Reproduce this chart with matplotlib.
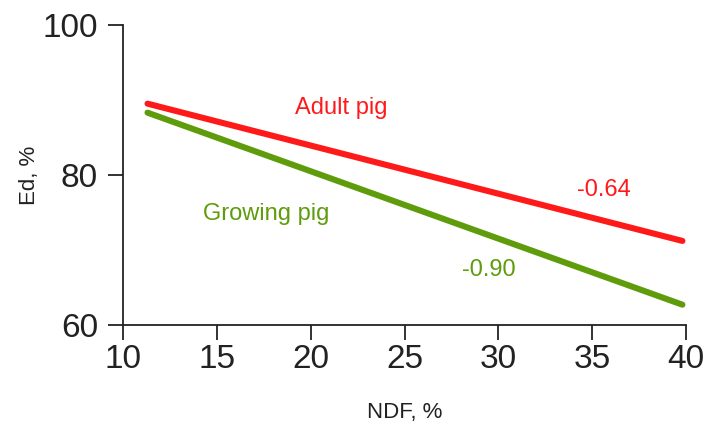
import matplotlib.pyplot as plt

plt.rcParams['font.family'] = ['Liberation Sans', 'DejaVu Sans']

# NDF range and fitted Ed values at both ends
ndf = [11.3, 39.8]
adult = [89.5, 71.2]
growing = [88.3, 62.7]
xticks = [10, 15, 20, 25, 30, 35, 40]
yticks = [60, 80, 100]

red = '#ff1a1a'
green = '#5e9c0c'

fig = plt.figure(figsize=(7.2, 4.22), dpi=100)
ax = fig.add_axes([0.171, 0.230, 0.782, 0.711])

ax.plot(ndf, adult, color=red, lw=4.4, solid_capstyle='round')
ax.plot(ndf, growing, color=green, lw=4.4, solid_capstyle='round')

ax.text(21.6, 88.9, "Adult pig", color=red, fontsize=17, ha='center', va='center')
ax.text(35.6, 78.0, "-0.64", color=red, fontsize=17, ha='center', va='center')
ax.text(17.6, 74.8, "Growing pig", color=green, fontsize=17, ha='center', va='center')
ax.text(29.5, 67.3, "-0.90", color=green, fontsize=17, ha='center', va='center')

ax.set_xlim(10, 40)
ax.set_ylim(60, 100)
ax.set_xticks(xticks)
ax.set_yticks(yticks)
ax.tick_params(labelsize=24, length=11, width=1.3, direction='out', colors='#222222')
ax.tick_params(axis='x', pad=3)
ax.tick_params(axis='y', pad=7)
for s in ['top', 'right']:
    ax.spines[s].set_visible(False)
for s in ['left', 'bottom']:
    ax.spines[s].set_linewidth(1.3)
    ax.spines[s].set_color('#222222')

ax.set_xlabel("NDF, %", fontsize=16, labelpad=19, color='#222222')
ax.set_ylabel("Ed, %", fontsize=16, labelpad=2, color='#222222')

fig.savefig("out.png", dpi=100)
